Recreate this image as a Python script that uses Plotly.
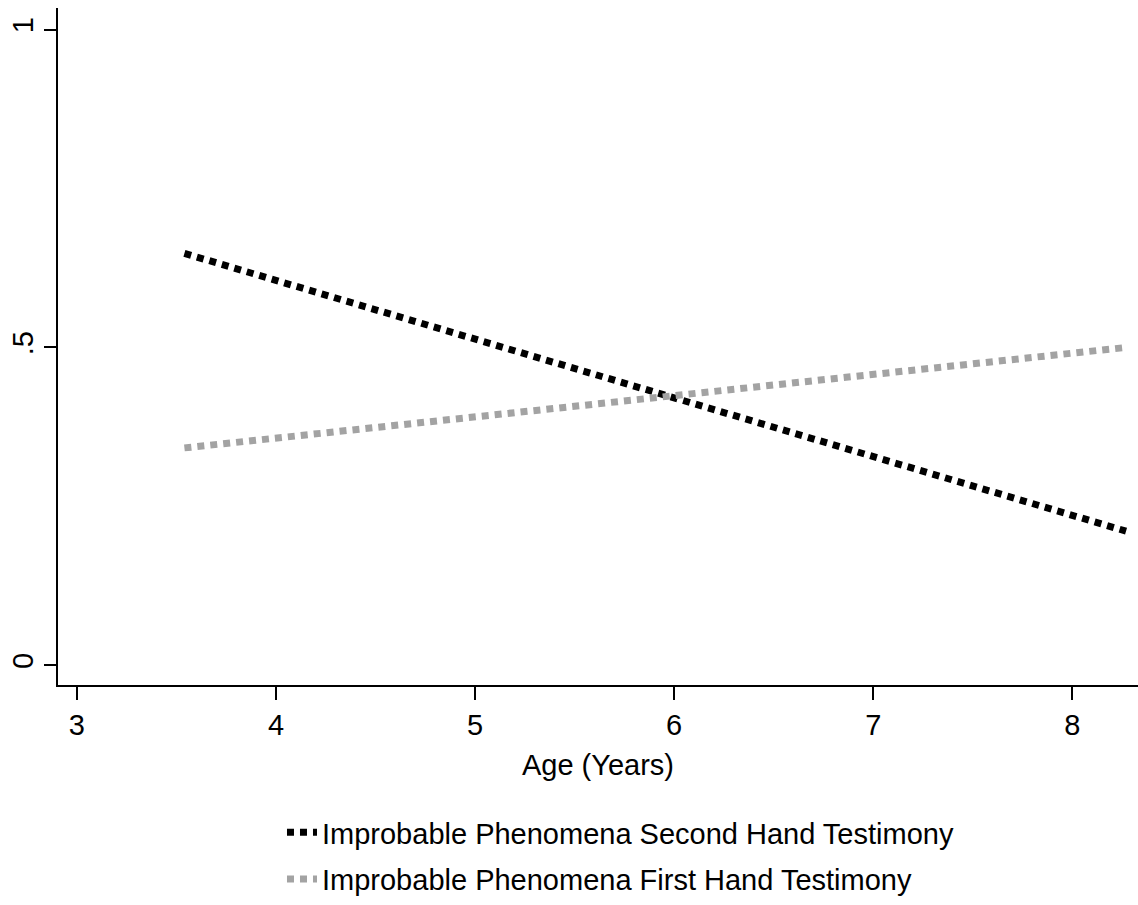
import plotly.graph_objects as go

age = [3.54, 8.27]
second_hand = [0.648, 0.211]
first_hand = [0.342, 0.500]
series_names = ["Improbable Phenomena Second Hand Testimony",
                "Improbable Phenomena First Hand Testimony"]
x_ticks = [3, 4, 5, 6, 7, 8]
y_ticks = [0, 0.5, 1]
y_tick_labels = ["0", ".5", "1"]

FONT = "Liberation Sans, Arial, Helvetica, sans-serif"

fig = go.Figure()
fig.add_trace(go.Scatter(x=age, y=second_hand, mode="lines", name=series_names[0],
                         legendgroup="a",
                         line=dict(color="#000000", width=7, dash="7px,6px")))
fig.add_trace(go.Scatter(x=age, y=first_hand, mode="lines", name=series_names[1],
                         legendgroup="b",
                         line=dict(color="#a3a3a3", width=7, dash="7px,6px")))

fig.update_layout(
    width=1138, height=905,
    margin=dict(l=58, r=0, t=8, b=215),
    paper_bgcolor="white", plot_bgcolor="white",
    font=dict(family=FONT, size=29, color="black"),
    showlegend=True,
    legend=dict(x=0.2074, y=-0.181, xanchor="left", yanchor="top",
                orientation="v", font=dict(size=29), tracegroupgap=6,
                itemwidth=30, bgcolor="rgba(0,0,0,0)"),
    xaxis=dict(range=[2.905, 8.33], tickvals=x_ticks, ticks="outside", ticklen=13,
               tickwidth=1.5, tickcolor="black", showline=True, linecolor="black",
               linewidth=1.5, showgrid=False, zeroline=False,
               title=dict(text="Age (Years)", standoff=15, font=dict(size=29))),
    yaxis=dict(range=[-0.031, 1.034], tickvals=y_ticks, ticktext=y_tick_labels,
               ticks="outside", ticklen=12, tickwidth=1.5, tickcolor="black",
               tickangle=-90, showline=True, linecolor="black", linewidth=1.5,
               showgrid=False, zeroline=False),
)

fig.write_html(
    "out.html",
    config={"displayModeBar": False},
    post_script=("document.documentElement.style.margin='0';"
                 "document.body.style.margin='0';"
                 "document.documentElement.style.overflow='hidden';"
                 "document.body.style.overflow='hidden';"
                 "var gd=document.getElementById('{plot_id}');"
                 "gd.style.position='fixed';gd.style.top='0px';gd.style.left='0px';"),
)
